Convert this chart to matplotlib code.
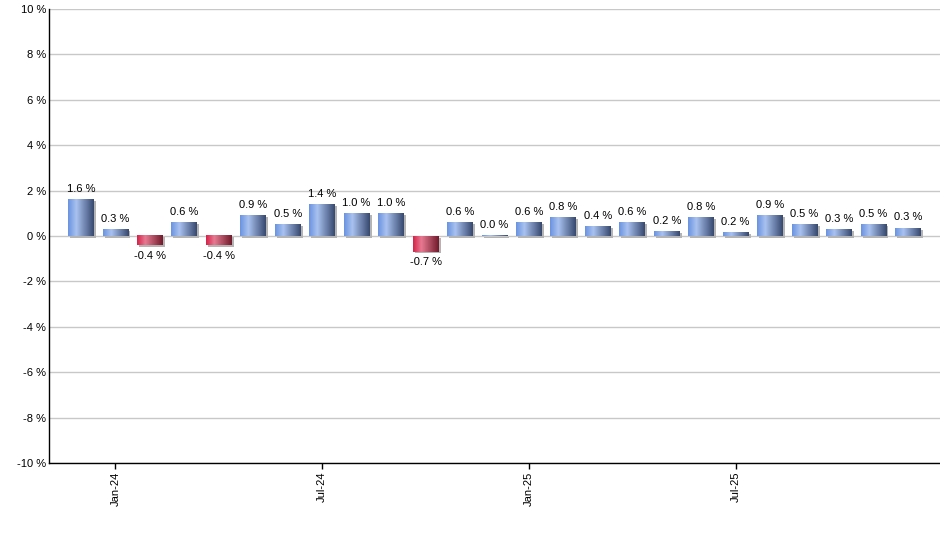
import numpy as np
import matplotlib
matplotlib.use("Agg")
import matplotlib.pyplot as plt
from matplotlib.colors import LinearSegmentedColormap
from matplotlib.patches import Rectangle

# monthly change, Dec-23 .. Dec-25
months = ["Dec-23", "Jan-24", "Feb-24", "Mar-24", "Apr-24", "May-24", "Jun-24",
          "Jul-24", "Aug-24", "Sep-24", "Oct-24", "Nov-24", "Dec-24",
          "Jan-25", "Feb-25", "Mar-25", "Apr-25", "May-25", "Jun-25",
          "Jul-25", "Aug-25", "Sep-25", "Oct-25", "Nov-25", "Dec-25"]
values = [1.6, 0.3, -0.4, 0.6, -0.4, 0.9, 0.5, 1.4, 1.0, 1.0, -0.7, 0.6, 0.03,
          0.6, 0.8, 0.4, 0.6, 0.2, 0.8, 0.15, 0.9, 0.5, 0.3, 0.5, 0.35]
labels = ["1.6 %", "0.3 %", "-0.4 %", "0.6 %", "-0.4 %", "0.9 %", "0.5 %",
          "1.4 %", "1.0 %", "1.0 %", "-0.7 %", "0.6 %", "0.0 %", "0.6 %",
          "0.8 %", "0.4 %", "0.6 %", "0.2 %", "0.8 %", "0.2 %", "0.9 %",
          "0.5 %", "0.3 %", "0.5 %", "0.3 %"]
shown_ticks = ["Jan-24", "Jul-24", "Jan-25", "Jul-25"]
y_ticks = [-10, -8, -6, -4, -2, 0, 2, 4, 6, 8, 10]

plt.rcParams["font.family"] = ["Liberation Sans", "DejaVu Sans"]

blue_cmap = LinearSegmentedColormap.from_list(
    "blue_bar", [(0, "#6a93e0"), (0.32, "#a9c2f0"), (1, "#37496f")])
red_cmap = LinearSegmentedColormap.from_list(
    "red_bar", [(0, "#d6234a"), (0.32, "#e67a92"), (1, "#721a2c")])
grad = np.linspace(0, 1, 64).reshape(1, -1)

fig = plt.figure(figsize=(9.4, 5.5), dpi=100)
ax = fig.add_axes([49 / 940, 87 / 550, 891 / 940, 454 / 550])

x = np.arange(len(values))
width = 0.75
px_x = 1 / 34.46
px_y = 1 / 22.7

for i, v in enumerate(values):
    left = x[i] - width / 2
    bottom, top = min(0, v), max(0, v)
    # soft shadow right/below
    ax.add_patch(Rectangle((left + 2 * px_x, bottom - 1.5 * px_y), width,
                           top - bottom, facecolor="#b4b4b4",
                           edgecolor="none", zorder=2))
    cmap = blue_cmap if v >= 0 else red_cmap
    ax.imshow(grad, cmap=cmap, aspect="auto", interpolation="bilinear",
              extent=(left, left + width, bottom, top), zorder=3)
    if v >= 0:
        ax.annotate(labels[i], (x[i], top), xytext=(0, 4),
                    textcoords="offset points", ha="center", va="bottom",
                    fontsize=8, zorder=4)
    else:
        ax.annotate(labels[i], (x[i], bottom), xytext=(0, -4),
                    textcoords="offset points", ha="center", va="top",
                    fontsize=8, zorder=4)

ax.set_xlim(-0.93, len(values) - 1 + 0.93)
ax.set_ylim(-10, 10)

ax.set_yticks(y_ticks)
ax.set_yticklabels([f"{t} %" for t in y_ticks], fontsize=8)
ax.tick_params(axis="y", length=0, pad=2)
ax.grid(axis="y", color="#c8c8c8", linewidth=1, zorder=0)
ax.set_axisbelow(True)

tick_pos = [months.index(m) for m in shown_ticks]
ax.set_xticks(tick_pos)
ax.set_xticklabels(shown_ticks, rotation=90, fontsize=8)
ax.tick_params(axis="x", length=4, width=1, pad=2)

for side in ["top", "right"]:
    ax.spines[side].set_visible(False)
for side in ["left", "bottom"]:
    ax.spines[side].set_color("black")
    ax.spines[side].set_linewidth(1)

fig.savefig("out.png", dpi=100)
